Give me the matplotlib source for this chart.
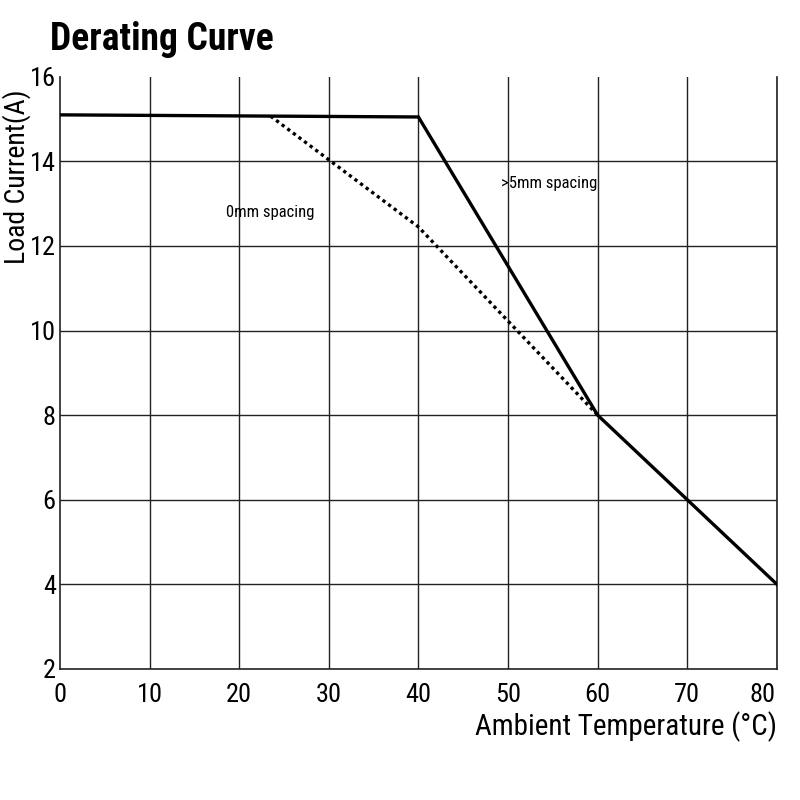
import matplotlib
matplotlib.use("Agg")
from matplotlib import pyplot as plt

plt.rcParams['font.family'] = ['Roboto Condensed', 'Barlow Condensed', 'Archivo Narrow', 'DejaVu Sans']

# data
temp_5mm = [0, 40, 60, 80]
current_5mm = [15.1, 15.05, 8, 4]
temp_0mm = [23.5, 40, 60]
current_0mm = [15.07, 12.45, 8]
x_ticks = [0, 10, 20, 30, 40, 50, 60, 70, 80]
x_labels = ['0', '10', '20', '30', '40', '50', '60', '70', '']
y_ticks = [2, 4, 6, 8, 10, 12, 14, 16]

fig = plt.figure(figsize=(8, 8), dpi=100)
ax = fig.add_axes([0.075, 0.164, 0.896, 0.740])

# grid
for x in x_ticks[1:]:
    ax.axvline(x, color='#222222', lw=1.0, zorder=1)
for y in y_ticks[1:-1]:
    ax.axhline(y, color='#222222', lw=1.0, zorder=1)

ax.plot(temp_5mm, current_5mm, color='black', lw=2.4, solid_joinstyle='miter', zorder=3)
ax.plot(temp_0mm, current_0mm, color='black', lw=2.4, linestyle=(0, (1, 1.1)), zorder=2)

ax.text(23.5, 12.8, '0mm spacing', fontsize=12, ha='center', va='center')
ax.text(54.6, 13.47, '>5mm spacing', fontsize=12, ha='center', va='center')

ax.set_xlim(0, 80)
ax.set_ylim(2, 16)
ax.set_xticks(x_ticks, x_labels)
ax.set_yticks(y_ticks)
ax.tick_params(length=0, labelsize=19, pad=3)
ax.tick_params(axis='x', pad=10)
# last x label sits flush with the right edge
ax.annotate('80', xy=(80, 0), xycoords=('data', 'axes fraction'),
            xytext=(-1, -10), textcoords='offset points',
            ha='right', va='top', fontsize=19)
ax.spines['top'].set_visible(False)
for s in ['left', 'bottom', 'right']:
    ax.spines[s].set_linewidth(1.2)
    ax.spines[s].set_color('#222222')

ax.set_xlabel('Ambient Temperature (°C)', fontsize=21, loc='right', labelpad=3)
ax.text(-0.061, 0.831, 'Load Current(A)', fontsize=20, rotation=90,
        ha='center', va='center', transform=ax.transAxes)

fig.text(0.062, 0.95, 'Derating Curve', fontsize=27, fontweight='bold',
         ha='left', va='center')

fig.savefig('out.png', dpi=100)
